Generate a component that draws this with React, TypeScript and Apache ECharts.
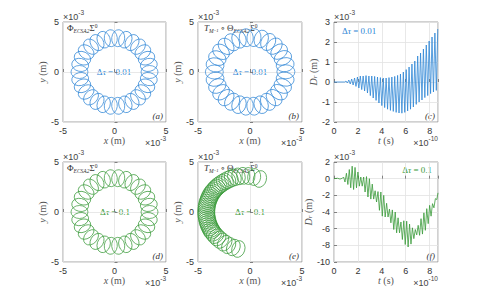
import React, { useEffect, useRef } from 'react';
import * as echarts from 'echarts';

const BLUE = '#2f86d6';
const GREEN = '#3a9a3a';
const SERIF = '"Liberation Serif", "DejaVu Serif", serif';
const SANS = '"Liberation Sans", Arial, sans-serif';

// loop centres (units of 1e-3 m)
const ringA: [number, number][] = [
  [3.40, 0.00], [3.33, 0.71], [3.11, 1.38], [2.75, 2.00], [2.28, 2.53], [1.70, 2.94],
  [1.05, 3.23], [0.36, 3.38], [-0.36, 3.38], [-1.05, 3.23], [-1.70, 2.94], [-2.28, 2.53],
  [-2.75, 2.00], [-3.11, 1.38], [-3.33, 0.71], [-3.40, 0.00], [-3.33, -0.71], [-3.11, -1.38],
  [-2.75, -2.00], [-2.28, -2.53], [-1.70, -2.94], [-1.05, -3.23], [-0.36, -3.38], [0.36, -3.38],
  [1.05, -3.23], [1.70, -2.94], [2.28, -2.53], [2.75, -2.00], [3.11, -1.38], [3.33, -0.71],
];
const ringB: [number, number][] = [
  [3.45, 0.02], [3.38, 0.73], [3.16, 1.41], [2.80, 2.04], [2.33, 2.58], [1.75, 3.00],
  [1.08, 3.30], [0.38, 3.44], [-0.36, 3.43], [-1.06, 3.27], [-1.72, 2.97], [-2.30, 2.56],
  [-2.78, 2.02], [-3.14, 1.39], [-3.36, 0.71], [-3.43, 0.00], [-3.36, -0.72], [-3.14, -1.40],
  [-2.78, -2.03], [-2.30, -2.56], [-1.72, -2.97], [-1.06, -3.27], [-0.36, -3.42], [0.37, -3.42],
  [1.07, -3.27], [1.73, -2.98], [2.32, -2.56], [2.79, -2.02], [3.15, -1.40], [3.38, -0.71],
];
const ringD: [number, number][] = [
  [3.40, 0.00], [3.33, 0.71], [3.11, 1.38], [2.75, 2.00], [2.28, 2.53], [1.70, 2.94],
  [1.05, 3.23], [0.36, 3.38], [-0.36, 3.38], [-1.05, 3.23], [-1.70, 2.94], [-2.28, 2.53],
  [-2.75, 2.00], [-3.11, 1.38], [-3.33, 0.71], [-3.40, 0.00], [-3.33, -0.71], [-3.11, -1.38],
  [-2.75, -2.00], [-2.28, -2.53], [-1.70, -2.94], [-1.05, -3.23], [-0.36, -3.38], [0.36, -3.38],
  [1.05, -3.23], [1.70, -2.94], [2.28, -2.53], [2.75, -2.00], [3.11, -1.38], [3.33, -0.71],
];
const arcE: [number, number][] = [
  [0.95, 3.3], [0.4, 3.5], [-0.15, 3.6], [-0.65, 3.62], [-1.1, 3.56], [-1.5, 3.47],
  [-1.8, 3.37], [-2.05, 3.25], [-2.3, 3.12], [-2.53, 2.98], [-2.74, 2.84], [-2.93, 2.7],
  [-3.09, 2.56], [-3.23, 2.42], [-3.37, 2.28], [-3.5, 2.12], [-3.62, 1.96], [-3.73, 1.8],
  [-3.82, 1.62], [-3.9, 1.45], [-3.97, 1.28], [-4.03, 1.1], [-4.09, 0.92], [-4.13, 0.73],
  [-4.16, 0.55], [-4.18, 0.36], [-4.2, 0.16], [-4.2, -0.03], [-4.2, -0.22], [-4.18, -0.42],
  [-4.15, -0.6], [-4.11, -0.79], [-4.07, -0.98], [-4.01, -1.16], [-3.95, -1.34], [-3.87, -1.52],
  [-3.79, -1.69], [-3.7, -1.85], [-3.6, -2.01], [-3.45, -2.2], [-3.27, -2.42], [-3.05, -2.64],
  [-2.78, -2.87], [-2.44, -3.12], [-2.05, -3.36], [-1.6, -3.55], [-1.12, -3.7],
];

// D_r(t): t in 1e-10 s, D_r in 1e-3 m (turning points)
const drC: [number, number][] = [
  [0, 0], [0.9, 0], [1.0, 0.05], [1.12, -0.05], [1.24, 0.1], [1.36, -0.1], [1.48, 0.15], [1.6, -0.15],
  [1.72, 0.2], [1.84, -0.22], [1.96, 0.25], [2.08, -0.3], [2.2, 0.3], [2.32, -0.38], [2.44, 0.3],
  [2.56, -0.45], [2.68, 0.32], [2.8, -0.55], [2.92, 0.3], [3.04, -0.68], [3.16, 0.3], [3.28, -0.8],
  [3.4, 0.28], [3.52, -0.92], [3.64, 0.25], [3.76, -1.05], [3.88, 0.22], [4.0, -1.18], [4.12, 0.2],
  [4.24, -1.28], [4.36, 0.2], [4.48, -1.36], [4.6, 0.22], [4.72, -1.42], [4.84, 0.25], [4.96, -1.47],
  [5.08, 0.28], [5.2, -1.52], [5.32, 0.33], [5.44, -1.55], [5.56, 0.4], [5.68, -1.56], [5.8, 0.5],
  [5.92, -1.52], [6.04, 0.62], [6.16, -1.45], [6.28, 0.75], [6.4, -1.36], [6.52, 0.9], [6.64, -1.25],
  [6.76, 1.05], [6.88, -1.12], [7.0, 1.3], [7.12, -1.0], [7.24, 1.45], [7.36, -0.9], [7.48, 1.65],
  [7.6, -0.78], [7.72, 1.85], [7.84, -0.68], [7.96, 2.05], [8.08, -0.58], [8.2, 2.25], [8.32, -0.5],
  [8.44, 2.45], [8.56, -0.42], [8.68, 2.65],
];
const drF: [number, number][] = [
  [0, 0], [0.3, 0.05], [0.5, -0.05], [0.7, 0.05], [0.8, 0.2], [0.92, -0.4], [1.04, 0.65], [1.16, -0.7],
  [1.28, 1.1], [1.4, -1.1], [1.52, 1.5], [1.64, -1.3], [1.76, 1.35], [1.88, -1.1], [2.0, 0.8],
  [2.12, -0.9], [2.24, 0.2], [2.36, -0.9], [2.48, 0.2], [2.6, -1.6], [2.72, 0.25], [2.84, -2.2],
  [2.96, 0.0], [3.08, -2.45], [3.2, -0.65], [3.32, -2.45], [3.44, -1.45], [3.56, -2.8], [3.68, -1.55],
  [3.8, -3.8], [3.92, -1.6], [4.04, -4.5], [4.16, -2.0], [4.28, -4.6], [4.4, -2.95], [4.52, -4.6],
  [4.64, -3.65], [4.76, -5.3], [4.88, -3.75], [5.0, -6.1], [5.12, -4.0], [5.24, -6.5], [5.36, -4.7],
  [5.48, -6.5], [5.6, -5.2], [5.72, -7.3], [5.84, -5.05], [5.96, -7.9], [6.08, -5.1], [6.2, -8.2],
  [6.32, -5.45], [6.44, -7.85], [6.56, -5.9], [6.68, -7.2], [6.8, -6.1], [6.92, -6.75], [7.04, -5.6],
  [7.16, -6.8], [7.28, -4.8], [7.4, -6.65], [7.52, -4.1], [7.64, -6.2], [7.76, -3.6], [7.88, -5.4],
  [8.0, -3.2], [8.12, -4.5], [8.24, -3.0], [8.36, -3.5], [8.48, -2.4], [8.6, -2.5], [8.7, -1.7],
];

const xyRange = { min: -5, max: 5, interval: 5 };
const tRange = { min: 0, max: 8.7, interval: 2 };
const dcRange = { min: -2, max: 3, interval: 1 };
const dfRange = { min: -10, max: 2, interval: 2 };

const panelLetters = ['(a)', '(b)', '(c)', '(d)', '(e)', '(f)'];

const gridBoxes = [
  { left: 63, top: 22, width: 103, height: 100 },
  { left: 198, top: 22, width: 104, height: 100 },
  { left: 334, top: 22, width: 104, height: 100 },
  { left: 63, top: 162, width: 103, height: 100 },
  { left: 198, top: 162, width: 104, height: 100 },
  { left: 334, top: 162, width: 104, height: 100 },
];

const mathRich = {
  i: { fontFamily: SERIF, fontStyle: 'italic', fontSize: 10, color: '#555' },
  n: { fontFamily: SERIF, fontSize: 10, color: '#555' },
  s: { fontFamily: SERIF, fontStyle: 'italic', fontSize: 7, color: '#555', verticalAlign: 'bottom', lineHeight: 7 },
};

const LOOP = 'path://M0,-10A10,10 0 1,1 0,10A10,10 0 1,1 0,-10Z';

function App() {
  const ref = useRef<HTMLDivElement>(null);
  useEffect(() => {
    document.body.style.margin = '0';
    if (!ref.current) return;
    const chart = echarts.init(ref.current, null, { renderer: 'svg' });
    const intFmt = (v: number) => (Math.abs(v - Math.round(v)) < 1e-6 ? String(Math.round(v)) : '');
    const baseAxis = (i: number, r: any, isX: boolean, name: string) => ({
      type: 'value',
      gridIndex: i,
      ...r,
      axisLine: { show: false },
      axisTick: { show: true, inside: true, length: 3, lineStyle: { color: '#666', width: 0.8 } },
      splitLine: { show: true, lineStyle: { color: '#e2e2e2', width: 0.8 } },
      axisLabel: { fontSize: 9, color: '#333', fontFamily: SANS, margin: 4, formatter: intFmt },
      name,
      nameLocation: 'middle',
      nameGap: isX ? 12 : 14,
      nameTextStyle: { fontFamily: SERIF, fontSize: 10, color: '#555', rich: mathRich },
    });
    const xAxis = [0, 1, 2, 3, 4, 5].map((i) =>
      baseAxis(i, i % 3 === 2 ? tRange : xyRange, true, i % 3 === 2 ? '{i|t} {n|(s)}' : '{i|x} {n|(m)}')
    );
    const yAxis = [0, 1, 2, 3, 4, 5].map((i) =>
      baseAxis(
        i,
        i === 2 ? dcRange : i === 5 ? dfRange : xyRange,
        false,
        i % 3 === 2 ? '{i|D}{s|r} {n|(m)}' : '{i|y} {n|(m)}'
      )
    );
    const grid = gridBoxes.map((g) => ({ ...g, show: true, borderColor: '#8a8a8a', borderWidth: 0.8, backgroundColor: 'transparent' }));

    // loops are drawn as thin ellipses whose long axis points away from the origin
    const loops = (idx: number, data: [number, number][], color: string, size: [number, number]) => ({
      type: 'scatter',
      xAxisIndex: idx,
      yAxisIndex: idx,
      data,
      symbol: LOOP,
      symbolSize: size,
      symbolRotate: (v: number[]) => (Math.atan2(v[1], v[0]) * 180) / Math.PI - 90,
      silent: true,
      itemStyle: { color: 'rgba(0,0,0,0)', borderColor: color, borderWidth: 0.7, opacity: 1 },
      emphasis: { disabled: true },
    });
    const line = (idx: number, data: [number, number][], color: string) => ({
      type: 'line',
      xAxisIndex: idx,
      yAxisIndex: idx,
      data,
      showSymbol: false,
      silent: true,
      lineStyle: { color, width: 0.8 },
      emphasis: { disabled: true },
    });

    const sci = (x: number, y: number, exp: string, align: string) => ({
      type: 'text',
      x,
      y,
      style: {
        text: `{a|×10}{b|${exp}}`,
        align,
        verticalAlign: 'middle',
        rich: {
          a: { fontFamily: SANS, fontSize: 9, fill: '#444', lineHeight: 12, verticalAlign: 'bottom' },
          b: { fontFamily: SANS, fontSize: 6.5, fill: '#444', lineHeight: 7, verticalAlign: 'top' },
        },
      },
    });
    const titleRich = {
      n: { fontFamily: SERIF, fontSize: 9, fill: '#333', lineHeight: 11, verticalAlign: 'middle' },
      i: { fontFamily: SERIF, fontStyle: 'italic', fontSize: 9, fill: '#333', lineHeight: 11, verticalAlign: 'middle' },
      s: { fontFamily: SERIF, fontStyle: 'italic', fontSize: 5.5, fill: '#333', lineHeight: 6, verticalAlign: 'bottom' },
      p: { fontFamily: SERIF, fontSize: 5.5, fill: '#333', lineHeight: 6, verticalAlign: 'top' },
    };
    const titlePhi = (x: number, y: number) => ({
      type: 'text', x, y,
      style: { text: '{n|Φ}{s|ECSA2}{n|Σ}{p|0}', align: 'left', verticalAlign: 'middle', rich: titleRich },
    });
    const titleT = (x: number, y: number) => ({
      type: 'text', x, y,
      style: { text: '{i|T}{s|M⁻¹}{n| ∘ Θ}{s|ECSA2}{n|Σ}{p|0}', align: 'left', verticalAlign: 'middle', rich: titleRich },
    });
    const dtau = (x: number, y: number, val: string, color: string, align: string) => ({
      type: 'text', x, y,
      style: {
        text: `{n|Δ}{i|τ}{n| = ${val}}`,
        align,
        verticalAlign: 'middle',
        rich: {
          n: { fontFamily: SERIF, fontSize: 9, fill: color },
          i: { fontFamily: SERIF, fontStyle: 'italic', fontSize: 9, fill: color },
        },
      },
    });
    const letter = (i: number) => ({
      type: 'text',
      x: gridBoxes[i].left + gridBoxes[i].width - 3,
      y: gridBoxes[i].top + gridBoxes[i].height - 6,
      style: { text: panelLetters[i], align: 'right', verticalAlign: 'middle', fontFamily: SERIF, fontStyle: 'italic', fontSize: 9, fill: '#333' },
    });

    const graphic: any[] = [];
    gridBoxes.forEach((g, i) => {
      graphic.push(sci(g.left, g.top - 7, '-3', 'left'));
      graphic.push(sci(g.left + g.width, g.top + g.height + 19, i % 3 === 2 ? '-10' : '-3', 'right'));
      graphic.push(letter(i));
    });
    graphic.push(titlePhi(67, 28), titleT(204, 28), titlePhi(67, 168), titleT(204, 168));
    graphic.push(
      dtau(114, 72, '0.01', BLUE, 'center'),
      dtau(250, 72, '0.01', BLUE, 'center'),
      dtau(342, 31, '0.01', BLUE, 'left'),
      dtau(115, 212, '0.1', GREEN, 'center'),
      dtau(250, 212, '0.1', GREEN, 'center'),
      dtau(432, 170, '0.1', GREEN, 'right')
    );

    chart.setOption({
      animation: false,
      backgroundColor: '#fff',
      grid,
      xAxis,
      yAxis,
      series: [
        loops(0, ringA, BLUE, [13, 17]),
        loops(1, ringB, BLUE, [14, 18]),
        line(2, drC, BLUE),
        loops(3, ringD, GREEN, [13, 17]),
        loops(4, arcE, GREEN, [13, 17]),
        line(5, drF, GREEN),
      ],
      graphic,
    });
    return () => chart.dispose();
  }, []);
  return <div ref={ref} style={{ width: 483, height: 294 }} />;
}

export default App;
